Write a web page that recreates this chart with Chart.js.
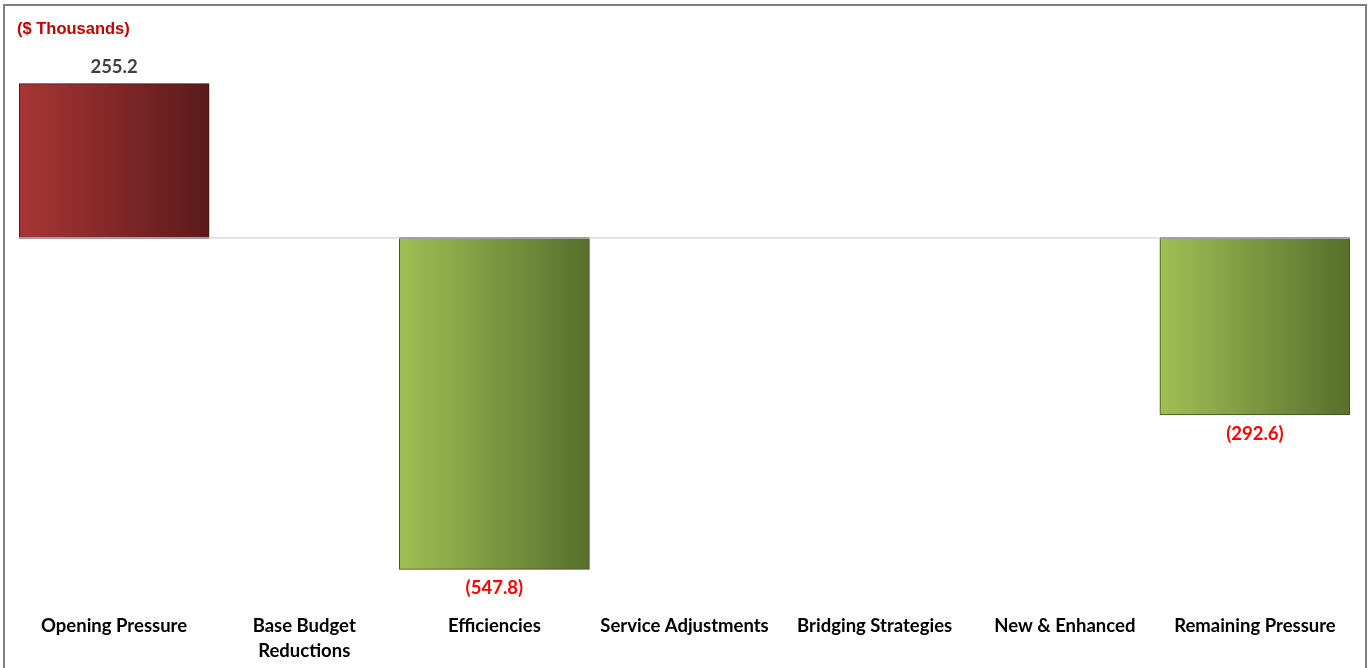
<!DOCTYPE html>
<html><head><meta charset="utf-8">
<script src="https://cdn.jsdelivr.net/npm/chart.js@4.4.1/dist/chart.umd.min.js"></script>
<style>
html,body{margin:0;padding:0;background:#fff;overflow:hidden;width:1371px;height:668px}
#frame{position:absolute;left:3px;top:4px;width:1360px;height:700px;border:2px solid #7f7f7f;box-sizing:content-box}
#wrap{position:absolute;left:0;top:0;width:1371px;height:668px}
</style></head><body>
<div id="frame"></div>
<div id="wrap"><canvas id="c" width="1371" height="668"></canvas></div>
<script>
const categories = ['Opening Pressure', ['Base Budget', 'Reductions'], 'Efficiencies', 'Service Adjustments', 'Bridging Strategies', 'New & Enhanced', 'Remaining Pressure'];
const values = [255.2, 0, -547.8, 0, 0, 0, -292.6];
const unitLabel = '($ Thousands)';
const yMin = -600;
const yMax = 300;

const LABEL_FONT = 'Lato, "Open Sans", sans-serif';

function gradientFor(ctx) {
  const chart = ctx.chart;
  const xs = chart.scales.x;
  const v = values[ctx.dataIndex];
  const fallback = v >= 0 ? '#8a2a2a' : '#7d9a40';
  if (!xs || !chart.chartArea) return fallback;
  const w = xs.width / categories.length;
  const cx = xs.getPixelForValue(ctx.dataIndex);
  const g = chart.ctx.createLinearGradient(cx - w / 2, 0, cx + w / 2, 0);
  if (v >= 0) { g.addColorStop(0, '#a93535'); g.addColorStop(1, '#5a1a1a'); }
  else { g.addColorStop(0, '#a0c054'); g.addColorStop(1, '#566f2c'); }
  return g;
}

const overlay = {
  id: 'overlay',
  afterDatasetsDraw(chart) {
    const c = chart.ctx;
    const ys = chart.scales.y;
    const y0 = ys.getPixelForValue(0);
    const meta = chart.getDatasetMeta(0);
    c.save();
    meta.data.forEach((bar, i) => {
      if (values[i] === 0) return;
      const p = bar.getProps(['x', 'width'], true);
      c.strokeStyle = '#a0a0a0';
      c.lineWidth = 2;
      c.beginPath();
      c.moveTo(p.x - p.width / 2, y0);
      c.lineTo(p.x + p.width / 2, y0);
      c.stroke();
    });
    c.font = 'bold 18.5px ' + LABEL_FONT;
    c.textAlign = 'center';
    c.textBaseline = 'middle';
    meta.data.forEach((bar, i) => {
      const v = values[i];
      if (v === 0) return;
      const p = bar.getProps(['x', 'y'], true);
      if (v > 0) {
        c.fillStyle = '#404040';
        c.fillText(v.toFixed(1), p.x, p.y - 17);
      } else {
        c.fillStyle = '#ff0000';
        c.fillText('(' + Math.abs(v).toFixed(1) + ')', p.x, p.y + 19);
      }
    });
    c.font = 'bold 16.5px "Liberation Sans", Arial, sans-serif';
    c.textAlign = 'left';
    c.fillStyle = '#c00000';
    c.fillText(unitLabel, 17, 29);
    c.restore();
  }
};

new Chart(document.getElementById('c'), {
  type: 'bar',
  data: {
    labels: categories,
    datasets: [{
      data: values.map(v => v === 0 ? null : v),
      backgroundColor: gradientFor,
      borderColor: ctx => values[ctx.dataIndex] >= 0 ? '#3a0e0e' : '#3d4c1c',
      borderWidth: 1,
      barPercentage: 1,
      categoryPercentage: 1
    }]
  },
  options: {
    responsive: false,
    animation: false,
    devicePixelRatio: 1,
    layout: { padding: { left: 19, right: 21, top: 56.5, bottom: 0 } },
    plugins: { legend: { display: false }, tooltip: { enabled: false }, title: { display: false } },
    scales: {
      x: {
        grid: { display: false, drawTicks: false },
        border: { display: false },
        ticks: {
          color: '#000000',
          padding: 13,
          maxRotation: 0,
          autoSkip: false,
          font: { family: LABEL_FONT, size: 18.5, weight: 'bold', lineHeight: 25 / 18.5 }
        },
        afterFit(s) { s.height = 67; }
      },
      y: {
        min: yMin,
        max: yMax,
        grid: {
          drawTicks: false,
          lineWidth: 2,
          color: ctx => (ctx.tick && ctx.tick.value === 0) ? '#e3e3e3' : 'rgba(0,0,0,0)'
        },
        border: { display: false },
        ticks: { display: false, stepSize: 100 },
        afterFit(s) { s.width = 0; }
      }
    }
  },
  plugins: [overlay]
});
</script>
</body></html>
